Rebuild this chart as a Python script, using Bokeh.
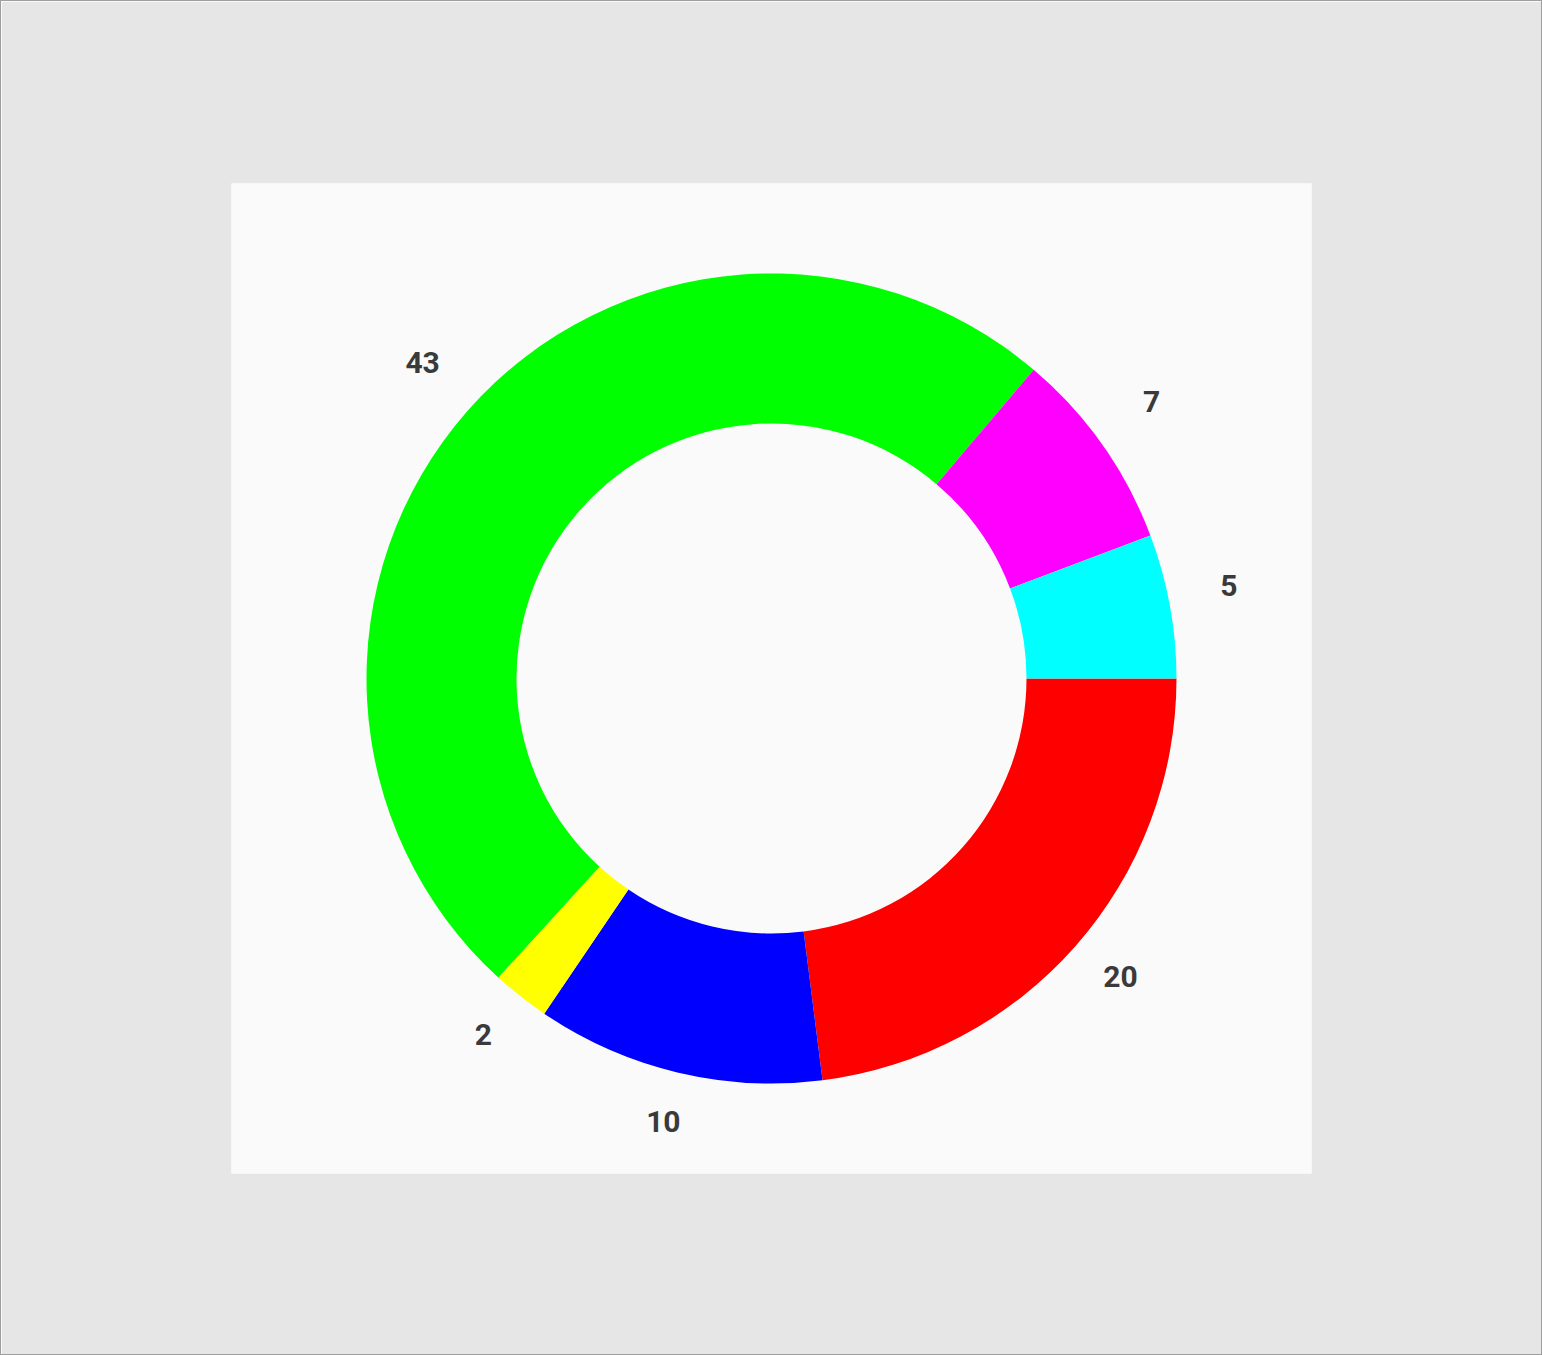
import math
from bokeh.plotting import figure
from bokeh.models import ColumnDataSource
from bokeh.core.properties import value
from bokeh.embed import file_html
from bokeh.resources import INLINE

values = [20, 10, 2, 43, 7, 5]
colors = ["#ff0000", "#0000ff", "#ffff00", "#00ff00", "#ff00ff", "#00ffff"]
labels = [str(v) for v in values]

total = sum(values)
starts, ends, lx, ly = [], [], [], []
cum = 0
for v in values:
    a0 = cum / total * 2 * math.pi
    cum += v
    a1 = cum / total * 2 * math.pi
    # clockwise from 3 o'clock
    starts.append(-a1)
    ends.append(-a0)
    mid = -(a0 + a1) / 2
    lx.append(465 * math.cos(mid))
    ly.append(465 * math.sin(mid))

src = ColumnDataSource(dict(start=starts, end=ends, color=colors, lx=lx, ly=ly, label=labels))

p = figure(width=1542, height=1355, output_backend="svg", toolbar_location=None,
           x_range=(-540, 540), y_range=(-495, 495),
           min_border_left=230, min_border_right=232, min_border_top=182, min_border_bottom=183)
p.axis.visible = False
p.grid.visible = False
p.outline_line_color = None
p.background_fill_color = "#fafafa"
p.border_fill_color = "#e6e6e6"
p.styles = {"border": "1px solid #9e9e9e", "box-sizing": "border-box"}

p.annular_wedge(x=0, y=0, inner_radius=255, outer_radius=405, start_angle="start", end_angle="end",
                direction="anticlock", fill_color="color", line_color=None, source=src)
p.text(x="lx", y="ly", text="label", source=src, text_align="center", text_baseline="middle",
       y_offset=-9,
       text_font=value("Roboto"), text_font_style="bold", text_font_size="30px", text_color="#3a3a3a")

open("out.html", "w").write(file_html(p, INLINE))
